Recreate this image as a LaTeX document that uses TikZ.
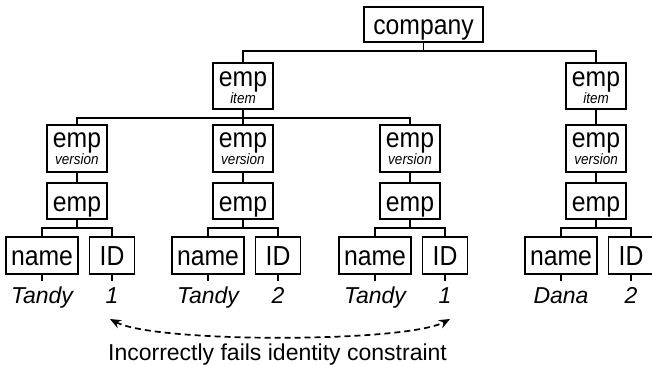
\documentclass[tikz,border=0pt]{standalone}
\usepackage{graphicx}
\usepackage{fontspec}
\setmainfont{Liberation Sans}
\usetikzlibrary{arrows.meta}
\newcommand\hsq[1]{\scalebox{0.9}[1]{#1}}
\begin{document}
\begin{tikzpicture}[x=1pt,y=-1pt,
  box/.style={draw, line width=1.8pt, inner sep=0pt, minimum width=60pt},
  wire/.style={line width=1.8pt},
  big/.style={inner sep=0pt, anchor=base, font=\fontsize{27.5}{27.5}\selectfont},
  small/.style={inner sep=0pt, anchor=base, font=\fontsize{15}{15}\selectfont\itshape},
  val/.style={inner sep=0pt, anchor=base, font=\fontsize{23}{23}\selectfont\itshape},
  caption/.style={inner sep=0pt, anchor=base, font=\fontsize{23}{23}\selectfont},
  itembox/.style={box, minimum height=46pt},
  verbox/.style={box, minimum height=47pt},
  empbox/.style={box, minimum height=36pt},
  namebox/.style={box, minimum width=72pt, minimum height=37pt},
  idbox/.style={box, minimum width=45pt, minimum height=37pt}]
\useasboundingbox (0,0) rectangle (652,364);

% root
\node[box, minimum width=119pt, minimum height=35pt] (company) at (423.5,24.5) {};
\node[big] (tcompany) at (423.5,34) {\hsq{company}};
\coordinate (bus1) at (0,51);

% item level
\foreach \n/\x in {i1/243, i2/596}{
  \node[itembox] (\n) at (\x,86) {};
  \node[big] (t\n) at (\x,86.5) {\hsq{emp}};
  \node[small] (s\n) at (\x,103) {\hsq{item}};
}
\coordinate (bus2) at (0,118);

% version level, emp level, leaves
\foreach \k/\x/\nm/\idv in {1/77/Tandy/1, 2/243/Tandy/2, 3/410/Tandy/1, 4/596/Dana/2}{
  \node[verbox] (v\k) at (\x,148.5) {};
  \node[big] (tv\k) at (\x,147.5) {\hsq{emp}};
  \node[small] (sv\k) at (\x,164.5) {\hsq{version}};
  \node[empbox] (e\k) at (\x,201) {};
  \node[big] (te\k) at (\x,211) {\hsq{emp}};
  \coordinate (bus3\k) at (\x,228);
  \node[namebox] (n\k) at (\x-35,255.5) {};
  \node[big] (tn\k) at (\x-35,265.5) {\hsq{name}};
  \node[idbox] (d\k) at (\x+35,255.5) {};
  \node[big] (td\k) at (\x+35,265.5) {\hsq{ID}};
  \node[val] (vn\k) at (\x-35,303) {\nm};
  \node[val] (vd\k) at (\x+35,303) {\idv};
  \draw[wire] (v\k.south) -- (e\k.north);
  \draw[wire] (e\k.south) -- (bus3\k);
  \draw[wire] (n\k.north) -- (n\k.north |- bus3\k) -- (d\k.north |- bus3\k) -- (d\k.north);
  \draw[wire] (n\k.south) -- ++(0,6);
  \draw[wire] (d\k.south) -- ++(0,6);
}

% tree connectors
\draw[wire] (company.south) -- (company.south |- bus1);
\draw[wire] (i1.north) -- (i1.north |- bus1) -- (i2.north |- bus1) -- (i2.north);
\draw[wire] (i1.south) -- (i1.south |- bus2);
\draw[wire] (v1.north) -- (v1.north |- bus2) -- (v3.north |- bus2) -- (v3.north);
\draw[wire] (v2.north) -- (v2.north |- bus2);
\draw[wire] (i2.south) -- (v4.north);

% constraint arrow
\coordinate (a1) at (110,319);
\coordinate (a2) at (450,319);
\draw[wire, line width=1.7pt, dash pattern=on 6pt off 4pt,
  {Stealth[length=11pt,width=9pt]}-{Stealth[length=11pt,width=9pt]}]
  (a1) .. controls (155,343) and (405,343) .. (a2);
\node[caption] (cap) at (277.5,360.5) {Incorrectly fails identity constraint};
\end{tikzpicture}
\end{document}
